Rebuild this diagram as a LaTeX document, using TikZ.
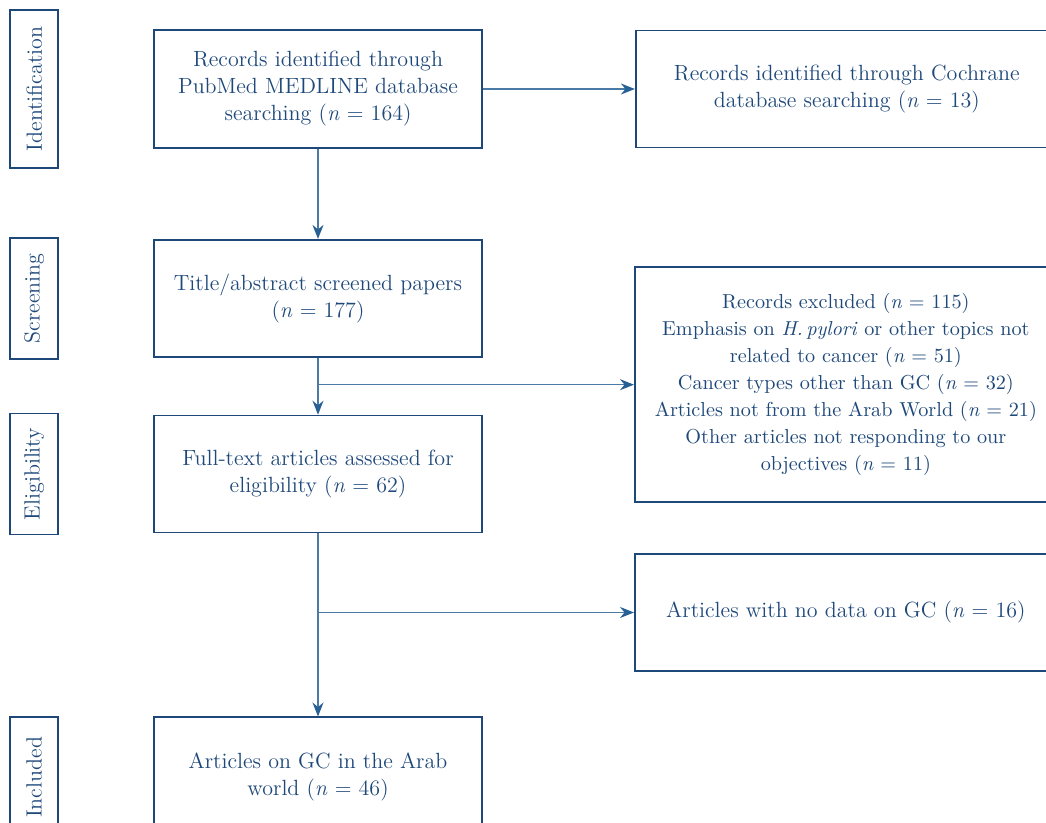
\documentclass[tikz,border=0pt]{standalone}
\usepackage{tikz}
\usetikzlibrary{arrows.meta, positioning, calc}
\definecolor{cnavy}{RGB}{30,72,122}
\definecolor{cline}{RGB}{74,122,166}
\definecolor{ctip}{RGB}{38,96,148}
\newcommand{\nn}{\textit{n}}

\begin{document}
\begin{tikzpicture}[
  node distance = 45pt and 76pt,
  box/.style    = {rectangle, draw=cnavy, line width=0.9pt, text=cnavy,
                   align=center, minimum width=164pt, minimum height=#1,
                   inner sep=3pt, font=\fontsize{11}{13.5}\selectfont},
  box/.default  = 58.5pt,
  wbox/.style   = {box=#1, minimum width=211pt},
  wbox/.default = 58.5pt,
  phase/.style  = {rectangle, draw=cnavy, line width=0.9pt, text=cnavy,
                   minimum width=24pt, minimum height=#1, inner sep=0pt,
                   font=\fontsize{11}{13.5}\selectfont},
  arr/.style    = {-{Stealth[length=7pt, width=5.5pt, color=ctip]},
                   line width=0.8pt, cline},
]
\clip (0,0) rectangle (523pt,-411.5pt);
% Left column
\node[box=59pt] at (159pt,-44.5pt) (pubmed)
  {Records identified through\\PubMed MEDLINE database\\searching (\nn{} = 164)};
\node[box, below=45pt of pubmed]  (screen) {Title/abstract screened papers\\(\nn{} = 177)};
\node[box, below=28.5pt of screen] (elig)  {Full-text articles assessed for\\eligibility (\nn{} = 62)};
\node[box=60pt, below=91.5pt of elig] (incl) {Articles on GC in the Arab\\world (\nn{} = 46)};
% Junctions
\coordinate (j1) at ($(screen.south)+(0,-13.5pt)$);
\coordinate (j2) at ($(elig.south)+(0,-39.5pt)$);
% Right column
\node[wbox, right=76pt of pubmed] (cochrane)
  {Records identified through Cochrane\\database searching (\nn{} = 13)};
\node[wbox=117.5pt, right=158pt of j1, font=\fontsize{10.1}{13.5}\selectfont] (excl)
  {Records excluded (\nn{} = 115)\\
   Emphasis on \textit{H.\,pylori} or other topics not\\
   related to cancer (\nn{} = 51)\\
   Cancer types other than GC (\nn{} = 32)\\
   Articles not from the Arab World (\nn{} = 21)\\
   Other articles not responding to our\\
   objectives (\nn{} = 11)};
\node[wbox, right=158pt of j2] (nodata) {Articles with no data on GC (\nn{} = 16)};
% Phase labels
\node[phase=79pt, left=47pt of pubmed]   (lid)   {\rotatebox{90}{Identification}};
\node[phase=60.5pt, left=47pt of screen] (lscr)  {\rotatebox{90}{Screening}};
\node[phase=60.5pt, left=47pt of elig]   (lelig) {\rotatebox{90}{Eligibility}};
\node[phase=60.5pt, left=47pt of incl]   (linc)  {\rotatebox{90}{Included}};
% Arrows
\draw[arr] (pubmed.east) -- (pubmed.east -| cochrane.west);
\draw[arr] (pubmed) -- (screen);
\draw[arr] (screen) -- (elig);
\draw[arr] (j1) -- (excl);
\draw[arr] (elig) -- (incl);
\draw[arr] (j2) -- (nodata);
\end{tikzpicture}
\end{document}
